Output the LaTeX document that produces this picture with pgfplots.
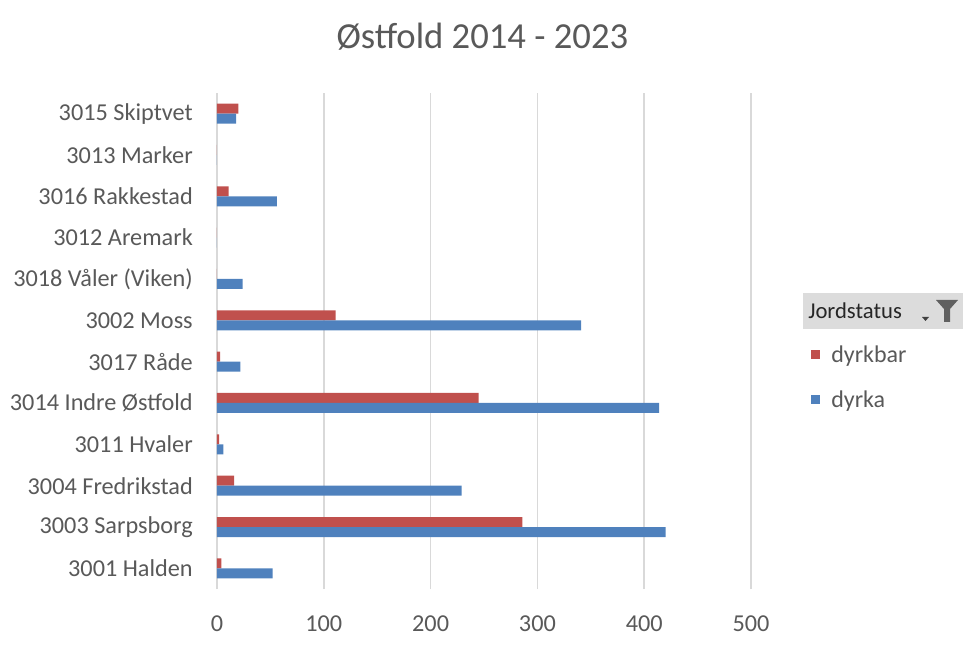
\documentclass[border=0pt]{standalone}
\usepackage{pgfplots}
\pgfplotsset{compat=1.18}
\usepackage{fontspec}
\setmainfont{Carlito}
\definecolor{cred}{HTML}{C0504D}
\definecolor{cblue}{HTML}{4F81BD}
\definecolor{cgrid}{HTML}{D9D9D9}
\definecolor{ctext}{HTML}{595959}
\definecolor{chead}{HTML}{DCDCDC}
\definecolor{cicon}{HTML}{606060}
\definecolor{carrow}{HTML}{404040}
\begin{document}
\begin{tikzpicture}
\path[use as bounding box] (-162.75pt,-42.75pt) rectangle (559.5pt,441.75pt);
\begin{axis}[
  at={(0pt,0pt)}, anchor=south west,
  scale only axis, width=400.5pt, height=372pt,
  xbar, bar width=7.5pt,
  xmin=0, xmax=500, ymin=-0.5, ymax=11.5,
  xtick={0,100,200,300,400,500},
  ytick={0,...,11},
  yticklabels={3001 Halden,3003 Sarpsborg,3004 Fredrikstad,3011 Hvaler,3014 Indre Østfold,3017 Råde,3002 Moss,3018 Våler (Viken),3012 Aremark,3016 Rakkestad,3013 Marker,3015 Skiptvet},
  axis line style={draw=none},
  major tick length=0pt,
  xmajorgrids, grid style={cgrid, line width=1.3pt},
  tick label style={font=\fontsize{18.2}{20}\selectfont, text=ctext},
  /pgf/number format/assume math mode=true,
  xticklabel style={anchor=center, inner sep=0pt, yshift=-25.9pt},
  yticklabel style={anchor=east, inner sep=0pt, xshift=-18pt},
  title={Østfold 2014 - 2023},
  title style={at={(axis description cs:0.497,1.098)}, anchor=center, inner sep=0pt, font=\fontsize{27.5}{30}\selectfont, text=ctext},
  legend cell align=left,
  legend image code/.code={\fill[#1] (0pt,-1.5pt) rectangle (6.5pt,5pt);},
  legend style={at={(axis description cs:1.113,0.491)}, anchor=north west, draw=none, fill=none,
    inner sep=0pt, outer sep=0pt, row sep=16.75pt, column sep=8.5pt,
    font=\fontsize{18}{20}\selectfont, text=ctext,
    nodes={inner sep=0pt, text height=13pt, text depth=4pt}},
]
\addplot[fill=cred, draw=none, bar shift=3.75pt] coordinates {
 (4,0) (286,1) (16,2) (2,3) (245,4) (3,5) (111,6) (0,7) (0,8) (11,9) (0,10) (20,11)};
\addlegendentry{dyrkbar}
\addplot[fill=cblue, draw=none, bar shift=-3.75pt] coordinates {
 (52,0) (420,1) (229,2) (6,3) (414,4) (22,5) (341,6) (24,7) (0,8) (56,9) (0,10) (18,11)};
\addlegendentry{dyrka}
\end{axis}
% legend header (Excel pivot field button)
\fill[chead] (439.5pt,195pt) rectangle (559.5pt,222pt);
\node[anchor=west, inner sep=0pt, font=\fontsize{17}{20}\selectfont, text=black!85] at (443.25pt,208.5pt) {Jordstatus};
\fill[carrow] (528.75pt,204pt) -- (534pt,204pt) -- (531.4pt,201pt) -- cycle;
\fill[cicon] (539.25pt,216.75pt) -- (555.75pt,216.75pt) -- (549.75pt,210pt) -- (549.75pt,200.25pt) -- (545.25pt,200.25pt) -- (545.25pt,210pt) -- cycle;
\end{tikzpicture}
\end{document}
